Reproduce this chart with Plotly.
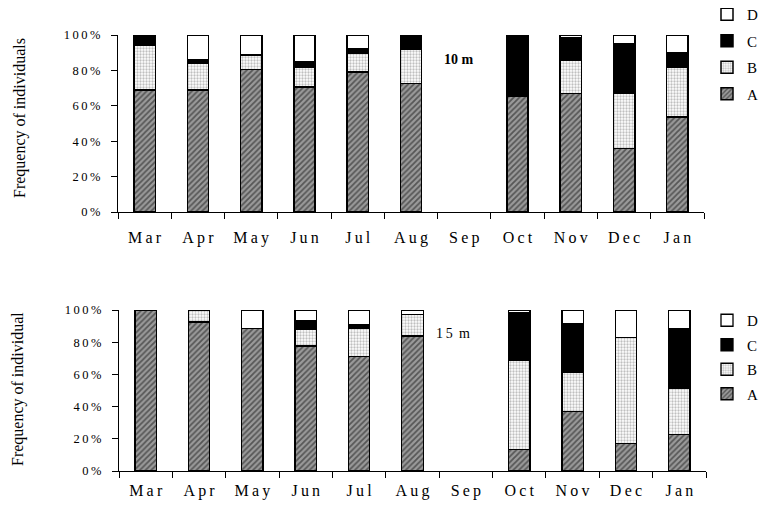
import plotly.graph_objects as go

months = ["Mar", "Apr", "May", "Jun", "Jul", "Aug", "Sep", "Oct", "Nov", "Dec", "Jan"]

# 10 m depth (% of individuals)
A10 = [69, 69, 80.5, 70.5, 79, 72.7, None, 65.6, 67, 36, 53.6]
B10 = [25, 15, 8.2, 11.5, 10.7, 19.3, None, 0, 19, 31, 28]
C10 = [6, 2, 0, 2.8, 2.3, 8, None, 34.4, 12.3, 28, 8.4]
D10 = [0, 14, 11.3, 15.2, 8, 0, None, 0, 1.7, 5, 10]

# 15 m depth (% of individuals)
A15 = [100, 92.6, 88.6, 77.7, 71, 83.9, None, 13.2, 36.8, 17, 22.5]
B15 = [0, 7.4, 0, 10.3, 17.4, 13.4, None, 55.4, 24.2, 66, 28.7]
C15 = [0, 0, 0, 5.2, 2.6, 0, None, 29.7, 30.7, 0, 37.4]
D15 = [0, 0, 11.4, 6.8, 9, 2.7, None, 1.7, 8.3, 17, 11.4]

yticks = [0, 20, 40, 60, 80, 100]

SERIF = "Liberation Serif"
TS = "\u2009"


def spaced(s):
    return TS.join(list(s))


month_text = [spaced(m) for m in months]
ytick_text = [spaced(str(v)) + TS + "%" for v in yticks]

styles = {
    "A": dict(color="#9a9a9a", pattern=dict(shape="/", fgcolor="#111111", bgcolor="#9a9a9a", size=4, solidity=0.45)),
    "B": dict(color="#ffffff", pattern=dict(shape=".", fgcolor="#808080", bgcolor="#ffffff", size=3, solidity=0.45)),
    "C": dict(color="#000000"),
    "D": dict(color="#ffffff"),
}
rank = {"D": 1, "C": 2, "B": 3, "A": 4}

fig = go.Figure()

# page body has an 8px margin; positions below are in page pixels, shifted by OFF
OFF = 8
W, H = 770 - OFF, 511 - OFF


def px(x):
    return (x - OFF) / W


def py(y):
    return 1 - (y - OFF) / H


def add_panel(series, xa, ya, legend, prefix, lw):
    for name, vals in series:
        st = styles[name]
        marker = dict(color=st["color"], line=dict(color="#000000", width=lw))
        if "pattern" in st:
            marker["pattern"] = st["pattern"]
        fig.add_trace(go.Bar(
            x=months, y=vals, name=name, marker=marker,
            xaxis=xa, yaxis=ya, legend=legend, legendgroup=prefix + name,
            legendrank=rank[name], showlegend=True,
        ))


add_panel([("A", A10), ("B", B10), ("C", C10), ("D", D10)], "x", "y", "legend", "t", 1.5)
add_panel([("A", A15), ("B", B15), ("C", C15), ("D", D15)], "x2", "y2", "legend2", "b", 1.3)

axis_common_x = dict(
    type="category", categoryorder="array", categoryarray=months,
    tickmode="array", tickvals=months, ticktext=month_text,
    tickson="boundaries", ticks="outside", ticklen=6, tickcolor="#000",
    showline=True, linecolor="#000", linewidth=1, showgrid=False, zeroline=False,
    tickfont=dict(family=SERIF, size=16, color="#000"), automargin=False,
)
axis_common_y = dict(
    range=[0, 100], tickmode="array", tickvals=yticks, ticktext=ytick_text,
    ticks="outside", ticklen=6, tickcolor="#000",
    showline=True, linecolor="#000", linewidth=1, showgrid=False, zeroline=False,
    tickfont=dict(family=SERIF, size=12.5, color="#000"), ticklabelstandoff=8,
    automargin=False,
)

legend_common = dict(
    xref="container", yref="container", xanchor="left", yanchor="middle",
    traceorder="grouped", itemwidth=30,
    font=dict(family=SERIF, size=15, color="#000"), bgcolor="rgba(0,0,0,0)",
)

fig.update_layout(
    width=W, height=H, autosize=False,
    margin=dict(l=0, r=0, t=0, b=0, autoexpand=False),
    paper_bgcolor="#fff", plot_bgcolor="#fff",
    barmode="stack", bargap=0.6,
    font=dict(family=SERIF, color="#000"),
    xaxis=dict(domain=[px(118), px(704)], anchor="y", ticklabelstandoff=11, **axis_common_x),
    yaxis=dict(domain=[py(212), py(35)], anchor="x", **axis_common_y),
    xaxis2=dict(domain=[px(119), px(706)], anchor="y2", ticklabelstandoff=5, **axis_common_x),
    yaxis2=dict(domain=[py(471), py(310)], anchor="x2", **axis_common_y),
    legend=dict(x=px(707), y=py(54), tracegroupgap=4, **legend_common),
    legend2=dict(x=px(707), y=py(357), tracegroupgap=2, **legend_common),
    annotations=[
        dict(text="Frequency of individuals", x=px(20), y=py(118), xref="paper", yref="paper",
             xanchor="center", yanchor="middle",
             textangle=-90, showarrow=False, font=dict(family=SERIF, size=16, color="#000")),
        dict(text="Frequency of individual", x=px(18), y=py(389), xref="paper", yref="paper",
             xanchor="center", yanchor="middle",
             textangle=-90, showarrow=False, font=dict(family=SERIF, size=16, color="#000")),
        dict(text="<b>10 m</b>", x=px(459), y=py(60), xref="paper", yref="paper",
             xanchor="center", yanchor="middle",
             showarrow=False, font=dict(family=SERIF, size=14, color="#000")),
        dict(text="1" + TS + "5" + TS + " m", x=px(453), y=py(333), xref="paper", yref="paper",
             xanchor="center", yanchor="middle",
             showarrow=False, font=dict(family=SERIF, size=14, color="#000")),
    ],
)

fig.write_html("out.html")
